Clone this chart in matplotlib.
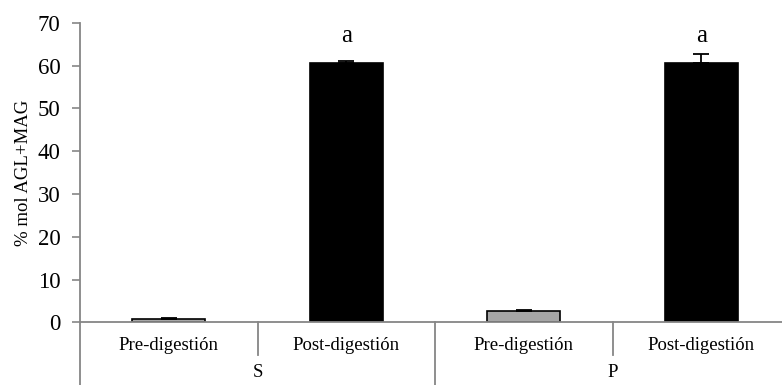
import matplotlib
matplotlib.use("Agg")
import matplotlib.pyplot as plt
import matplotlib.transforms as mtransforms

plt.rcParams['font.family'] = ['Liberation Serif', 'DejaVu Serif']

# data
groups = ['S', 'P']
stages = ['Pre-digestión', 'Post-digestión']
values = [0.7, 60.6, 2.65, 60.6]
errors = [0.2, 0.5, 0.2, 2.2]
colors = ['#a6a6a6', '#000000', '#a6a6a6', '#000000']
letters = ['', 'a', '', 'a']
letter_y = 67

axis_col = '#868686'
W, H = 782, 385
fig = plt.figure(figsize=(W/100, H/100), dpi=100)
# axes in pixel terms: x from 80 to 790, y=0 at 322.3, y=70 at 22.7
ax = fig.add_axes([80/W, (H-322.3)/H, 710/W, 299.6/H])

x = list(range(len(values)))
ax.bar(x, values, width=0.41, color=colors, edgecolor='black', linewidth=1.2, zorder=2)
ax.errorbar(x, values, yerr=[[0]*len(errors), errors], fmt='none', ecolor='black',
            elinewidth=1.3, capsize=6, capthick=1.3, zorder=3)
for xi, lab in zip(x, letters):
    if lab:
        ax.text(xi, letter_y, lab, ha='center', va='center', fontsize=18)

ax.set_xlim(-0.5, len(values)-0.5)
ax.set_ylim(0, 70)
ax.set_yticks(range(0, 80, 10))
ax.tick_params(axis='y', direction='out', length=6, width=1.2, color=axis_col,
               labelsize=16.5, pad=8)
ax.set_xticks([])
for s in ['top', 'right']:
    ax.spines[s].set_visible(False)
for s in ['left', 'bottom']:
    ax.spines[s].set_color(axis_col)
    ax.spines[s].set_linewidth(1.3)
ax.set_ylabel('% mol AGL+MAG', fontsize=13.5, labelpad=4)

# two-level category axis
trans = mtransforms.blended_transform_factory(ax.transData, ax.transAxes)
for i, st in enumerate(stages * len(groups)):
    ax.text(i, -0.076, st, transform=trans, ha='center', va='center', fontsize=13.5)
for g, name in enumerate(groups):
    ax.text(g*2 + 0.5, -0.168, name, transform=trans, ha='center', va='center', fontsize=13.5)
    ax.plot([g*2 + 0.5]*2, [0, -0.11], transform=trans, color=axis_col, lw=1.3, clip_on=False)
for b in [-0.5, 1.5, 3.5]:
    ax.plot([b, b], [0, -0.25], transform=trans, color=axis_col, lw=1.3, clip_on=False)

fig.savefig('out.png', dpi=100)
